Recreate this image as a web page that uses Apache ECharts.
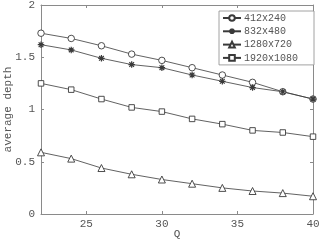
<!DOCTYPE html>
<html><head><meta charset="utf-8">
<script src="https://cdn.jsdelivr.net/npm/echarts@6/dist/echarts.min.js"></script>
<style>html,body{margin:0;padding:0;background:#fff}#c{width:319px;height:246px}</style>
</head><body><div id="c"></div>
<script>
const qValues = [22, 24, 26, 28, 30, 32, 34, 36, 38, 40];
const s412 = [1.73, 1.68, 1.61, 1.53, 1.47, 1.40, 1.33, 1.26, 1.17, 1.10];
const s832 = [1.62, 1.57, 1.49, 1.43, 1.40, 1.33, 1.27, 1.21, 1.17, 1.10];
const s1280 = [0.59, 0.53, 0.44, 0.38, 0.33, 0.29, 0.25, 0.22, 0.20, 0.17];
const s1920 = [1.25, 1.19, 1.10, 1.02, 0.98, 0.91, 0.86, 0.80, 0.78, 0.74];
const seriesNames = ['412x240', '832x480', '1280x720', '1920x1080'];
const xTicks = [25, 30, 35, 40];
const yTicks = [0, 0.5, 1, 1.5, 2];

const font = 'Liberation Mono';
const lineCol = '#3a3a3a';
const axisCol = '#8a8a8a';
const txtCol = '#555';
const asterisk = 'path://M0,-5L0,5M-5,0L5,0M-3.6,-3.6L3.6,3.6M-3.6,3.6L3.6,-3.6';

function mk(name, data, symbol, size) {
  return {
    name, type: 'line', data: qValues.map((q, i) => [q, data[i]]),
    symbol, symbolSize: size, showAllSymbol: true,
    lineStyle: { color: lineCol, width: 0.8 },
    itemStyle: { color: symbol === asterisk ? lineCol : '#fff', borderColor: lineCol, borderWidth: symbol === asterisk ? 1.2 : 0.9 },
    emphasis: { disabled: true }, animation: false, z: 3
  };
}

const chart = echarts.init(document.getElementById('c'), null, { renderer: 'canvas' });
chart.setOption({
  animation: false,
  textStyle: { fontFamily: font },
  grid: { left: 41, right: 6, top: 5, bottom: 32, outerBoundsMode: 'none' },
  legend: {
    left: 219, top: 11, orient: 'vertical',
    data: seriesNames,
    itemWidth: 18, itemHeight: 7, itemGap: 3.3,
    padding: [2, 16, 2, 3],
    borderColor: axisCol, borderWidth: 0.8,
    backgroundColor: '#fff',
    textStyle: { fontFamily: font, fontSize: 10, color: txtCol, padding: [0, 0, 0, -2] }
  },
  xAxis: [{
    type: 'value', min: 22, max: 40, position: 'bottom', offset: 0,
    name: 'Q', nameLocation: 'middle', nameGap: 15, nameMoveOverlap: false,
    nameTextStyle: { fontFamily: font, fontSize: 11, color: txtCol },
    axisLine: { show: true, onZero: false, lineStyle: { color: axisCol } },
    axisTick: { show: true, inside: true, length: 3, customValues: xTicks, lineStyle: { color: axisCol } },
    axisLabel: { customValues: xTicks, fontFamily: font, fontSize: 11, color: txtCol, margin: 5 },
    splitLine: { show: false }
  }, {
    type: 'value', min: 22, max: 40, position: 'top', offset: 0,
    axisLine: { show: true, onZero: false, lineStyle: { color: axisCol } },
    axisTick: { show: true, inside: true, length: 3, customValues: xTicks, lineStyle: { color: axisCol } },
    axisLabel: { show: false }, splitLine: { show: false }
  }],
  yAxis: [{
    type: 'value', min: 0, max: 2, interval: 0.5, position: 'left', offset: 0,
    name: 'average depth', nameLocation: 'middle', nameGap: 27, nameMoveOverlap: false,
    nameTextStyle: { fontFamily: font, fontSize: 11, color: txtCol },
    axisLine: { show: true, onZero: false, lineStyle: { color: axisCol } },
    axisTick: { show: true, inside: true, length: 3, lineStyle: { color: axisCol } },
    axisLabel: { fontFamily: font, fontSize: 11, color: txtCol, margin: 6,
      formatter: v => yTicks.includes(v) ? String(v) : '' },
    splitLine: { show: false }
  }, {
    type: 'value', min: 0, max: 2, interval: 0.5, position: 'right', offset: 0,
    axisLine: { show: true, onZero: false, lineStyle: { color: axisCol } },
    axisTick: { show: true, inside: true, length: 3, lineStyle: { color: axisCol } },
    axisLabel: { show: false }, splitLine: { show: false }
  }],
  series: [
    mk(seriesNames[0], s412, 'circle', 6.5),
    mk(seriesNames[1], s832, asterisk, 6.5),
    mk(seriesNames[2], s1280, 'triangle', 7),
    mk(seriesNames[3], s1920, 'rect', 5.5)
  ]
});
</script></body></html>
